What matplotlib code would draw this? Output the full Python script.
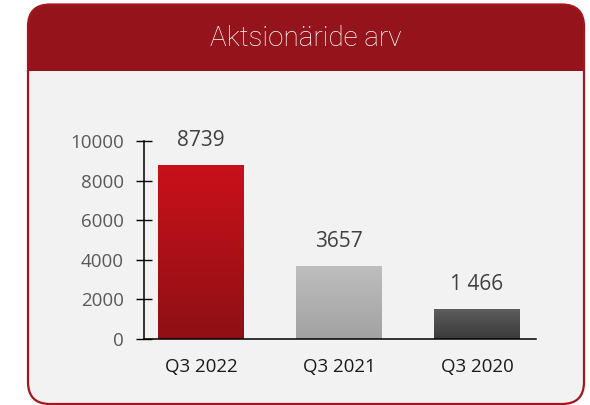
import numpy as np
import matplotlib
matplotlib.use("Agg")
import matplotlib.pyplot as plt
from matplotlib.patches import FancyBboxPatch, Rectangle
from matplotlib.transforms import Affine2D
from matplotlib.colors import LinearSegmentedColormap

# ---- data ----
categories = ["Q3 2022", "Q3 2021", "Q3 2020"]
values = [8739, 3657, 1466]
value_labels = ["8739", "3657", "1 466"]
yticks = [0, 2000, 4000, 6000, 8000, 10000]
title = "Aktsionäride arv"

bar_grad = [("#c9111a", "#8e1015"), ("#bebebe", "#a2a2a2"), ("#5d5d5d", "#3a3a3a")]

W, H = 590, 405
fig = plt.figure(figsize=(W / 100, H / 100), dpi=100)
fig.patch.set_facecolor("white")

# pixel transform (origin top-left)
pix = Affine2D().scale(1 / W, -1 / H).translate(0, 1) + fig.transFigure

red = "#95131a"
card = FancyBboxPatch((28, 4.5), 556, 399.5, boxstyle="round,pad=0,rounding_size=22",
                      transform=pix, facecolor="#f2f2f2", edgecolor="none", zorder=0)
fig.patches.append(card)
header = Rectangle((20, 0), 570, 71, transform=pix, facecolor=red, edgecolor="none", zorder=1)
header.set_clip_path(card)
fig.patches.append(header)
border = FancyBboxPatch((28, 4.5), 556, 399.5, boxstyle="round,pad=0,rounding_size=22",
                        transform=pix, facecolor="none", edgecolor="#a3161d", linewidth=1.6, zorder=2)
fig.patches.append(border)

fig.text(306 / W, 1 - 39 / H, title, color="white", fontsize=20, ha="center", va="center",
         family=["Roboto", "DejaVu Sans"], fontweight="light", zorder=3)

# ---- axes ----
ax = fig.add_axes([144 / W, (H - 339) / H, 392 / W, 198 / H])
ax.set_zorder(10)
ax.set_facecolor("none")
x = np.arange(len(categories))
width = 0.623
bars = ax.bar(x, values, width=width, color="none", zorder=2)
grad = np.linspace(1, 0, 256).reshape(-1, 1)
for b, (ctop, cbot) in zip(bars, bar_grad):
    cmap = LinearSegmentedColormap.from_list("g", [cbot, ctop])
    bx, by = b.get_x(), b.get_y()
    bw, bh = b.get_width(), b.get_height()
    ax.imshow(grad, cmap=cmap, extent=[bx, bx + bw, by, by + bh], aspect="auto",
              zorder=1, origin="upper", vmin=0, vmax=1)

for xi, v, lab in zip(x, values, value_labels):
    ax.annotate(lab, (xi, v), xytext=(0, 18), textcoords="offset points", ha="center",
                va="center", fontsize=15, color="#404040", family=["Open Sans", "DejaVu Sans"])

ax.set_xlim(-0.413, 2.428)
ax.set_ylim(0, 10000)
ax.set_yticks(yticks)
ax.set_yticklabels([str(t) for t in yticks])
ax.set_xticks(x)
ax.set_xticklabels(categories)
for s in ["top", "right"]:
    ax.spines[s].set_visible(False)
for s in ["left", "bottom"]:
    ax.spines[s].set_color("black")
    ax.spines[s].set_linewidth(1.1)
ax.tick_params(axis="y", direction="inout", length=12, width=1, color="black", pad=8.5,
               labelsize=13.5, labelcolor="#595959")
ax.tick_params(axis="x", length=0, pad=14, labelsize=13.5, labelcolor="#1a1a1a")
for lab in ax.get_xticklabels() + ax.get_yticklabels():
    lab.set_family(["Open Sans", "DejaVu Sans"])

fig.savefig("out.png", dpi=100)
